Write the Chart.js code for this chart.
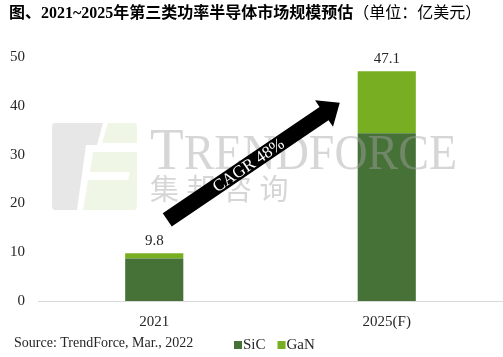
<!DOCTYPE html>
<html><head><meta charset="utf-8">
<script src="https://cdn.jsdelivr.net/npm/chart.js@4/dist/chart.umd.min.js"></script>
<style>html,body{margin:0;padding:0;background:#fff;} #wrap{width:503px;height:357px;position:relative;}</style>
</head><body><div id="wrap"><canvas id="c"></canvas></div>
<script>
const categories = ['2021', '2025(F)'];
const seriesNames = ['SiC', 'GaN'];
const sicValues = [8.7, 34.4];
const ganValues = [1.1, 12.7];
const yTickValues = [0, 10, 20, 30, 40, 50];
const titleMain = '图、2021~2025年第三类功率半导体市场规模预估';
const titleUnit = '（单位：亿美元）';
const sourceText = 'Source: TrendForce, Mar., 2022';
const cagrText = 'CAGR 48%';
const watermarkLatin = ['T', 'RENDFORCE'];
const watermarkCJK = ['集', '邦', '咨', '询'];

const SERIF = '"Liberation Serif","Times New Roman",serif';
const CJK = '"Liberation Serif","Noto Sans CJK SC",sans-serif';
const seriesColors = ['#467137', '#78AE22'];

const decor = {
  id: 'decor',
  afterDatasetsDraw(chart) {
    const ctx = chart.ctx, xs = chart.scales.x, ys = chart.scales.y;
    ctx.save();
    // ---- watermark logo ----
    ctx.fillStyle = 'rgba(170,170,170,0.28)';
    ctx.beginPath();
    ctx.moveTo(55, 123); ctx.lineTo(103, 123); ctx.lineTo(97, 145); ctx.lineTo(86, 145);
    ctx.lineTo(77, 210); ctx.lineTo(55, 210); ctx.quadraticCurveTo(52, 210, 52, 206);
    ctx.lineTo(52, 127); ctx.quadraticCurveTo(52, 123, 55, 123); ctx.closePath(); ctx.fill();
    ctx.fillStyle = 'rgba(200,222,160,0.28)';
    ctx.beginPath();
    ctx.moveTo(108, 123); ctx.lineTo(134, 123); ctx.quadraticCurveTo(137, 123, 137, 127);
    ctx.lineTo(137, 206); ctx.quadraticCurveTo(137, 210, 134, 210); ctx.lineTo(83, 210);
    ctx.lineTo(88, 180); ctx.lineTo(128, 180); ctx.lineTo(130, 172); ctx.lineTo(90, 172);
    ctx.lineTo(93, 152); ctx.lineTo(137, 152); ctx.lineTo(137, 143); ctx.lineTo(102, 143);
    ctx.closePath(); ctx.fill();
    // ---- watermark text ----
    ctx.fillStyle = 'rgba(165,165,165,0.45)';
    ctx.textBaseline = 'alphabetic'; ctx.textAlign = 'left';
    ctx.font = '60px ' + SERIF;
    const wT = ctx.measureText(watermarkLatin[0]).width;
    ctx.font = '50px ' + SERIF;
    const wR = ctx.measureText(watermarkLatin[1]).width;
    const sx = 307 / (wT + wR);
    ctx.save();
    ctx.translate(150, 169); ctx.scale(sx, 1);
    ctx.font = '60px ' + SERIF; ctx.fillText(watermarkLatin[0], 0, 0);
    ctx.font = '50px ' + SERIF; ctx.fillText(watermarkLatin[1], wT, 0);
    ctx.restore();
    ctx.font = '29px "Noto Sans CJK SC",sans-serif';
    ctx.textBaseline = 'middle';
    watermarkCJK.forEach((ch, i) => ctx.fillText(ch, 150 + i * 36.5, 189));
    // ---- CAGR arrow ----
    const tx = xs.getPixelForValue(0) + 13, ty = ys.getPixelForValue(16.6);
    const hx = xs.getPixelForValue(1) - 47, hy = ys.getPixelForValue(40.6);
    const ang = Math.atan2(hy - ty, hx - tx);
    const len = Math.hypot(hx - tx, hy - ty);
    ctx.translate(tx, ty); ctx.rotate(ang);
    ctx.fillStyle = '#000';
    ctx.beginPath();
    ctx.moveTo(0, -8); ctx.lineTo(len - 19, -8); ctx.lineTo(len - 19, -16);
    ctx.lineTo(len, 0); ctx.lineTo(len - 19, 16); ctx.lineTo(len - 19, 8);
    ctx.lineTo(0, 8); ctx.closePath(); ctx.fill();
    ctx.fillStyle = '#fff';
    ctx.font = '17px ' + SERIF;
    ctx.textAlign = 'center'; ctx.textBaseline = 'middle';
    ctx.fillText(cagrText, 98, 1);
    ctx.restore();
    // ---- totals ----
    ctx.save();
    ctx.fillStyle = '#262626';
    ctx.font = '15px ' + SERIF;
    ctx.textAlign = 'center'; ctx.textBaseline = 'middle';
    categories.forEach((c, i) => {
      const tot = sicValues[i] + ganValues[i];
      ctx.fillText(tot.toFixed(1), xs.getPixelForValue(i), ys.getPixelForValue(tot) - 12);
    });
    ctx.restore();
  },
  afterDraw(chart) {
    const ctx = chart.ctx;
    ctx.save();
    ctx.textBaseline = 'middle'; ctx.textAlign = 'left';
    ctx.fillStyle = '#000';
    ctx.font = 'bold 16px ' + CJK;
    ctx.fillText(titleMain, 9, 14);
    const w = ctx.measureText(titleMain).width;
    ctx.font = '16px ' + CJK;
    ctx.fillText(titleUnit, 9 + w, 14);
    ctx.fillStyle = '#262626';
    ctx.font = '14px ' + SERIF;
    ctx.fillText(sourceText, 14, 343);
    // legend
    ctx.font = '15px ' + SERIF;
    let lx = 234;
    seriesNames.forEach((n, i) => {
      ctx.fillStyle = seriesColors[i];
      ctx.fillRect(lx, 341, 8, 8);
      ctx.fillStyle = '#262626';
      ctx.fillText(n, lx + 9, 345);
      lx += 9 + ctx.measureText(n).width + 12;
    });
    ctx.restore();
  }
};

new Chart(document.getElementById('c'), {
  type: 'bar',
  data: {
    labels: categories,
    datasets: [
      { label: seriesNames[0], data: sicValues, backgroundColor: seriesColors[0] },
      { label: seriesNames[1], data: ganValues, backgroundColor: seriesColors[1] }
    ]
  },
  options: {
    responsive: true, maintainAspectRatio: false, animation: false,
    layout: { padding: { top: 57, left: 0, right: 0, bottom: 0 } },
    plugins: { legend: { display: false }, tooltip: { enabled: false }, title: { display: false } },
    datasets: { bar: { categoryPercentage: 1, barPercentage: 0.25 } },
    scales: {
      x: {
        stacked: true,
        grid: { display: false, drawTicks: false },
        border: { display: true, color: '#d9d9d9', width: 1 },
        ticks: { padding: 12, color: '#262626', font: { family: SERIF, size: 15 } },
        afterFit(s) { s.height = 56; }
      },
      y: {
        stacked: true, min: 0, max: 50,
        grid: { display: false, drawTicks: false },
        border: { display: false },
        afterBuildTicks(s) { s.ticks = yTickValues.map(v => ({ value: v })); },
        ticks: { padding: 13, color: '#262626', font: { family: SERIF, size: 15 } },
        afterFit(s) { s.width = 38; }
      }
    }
  },
  plugins: [decor]
});
</script>
</body></html>
